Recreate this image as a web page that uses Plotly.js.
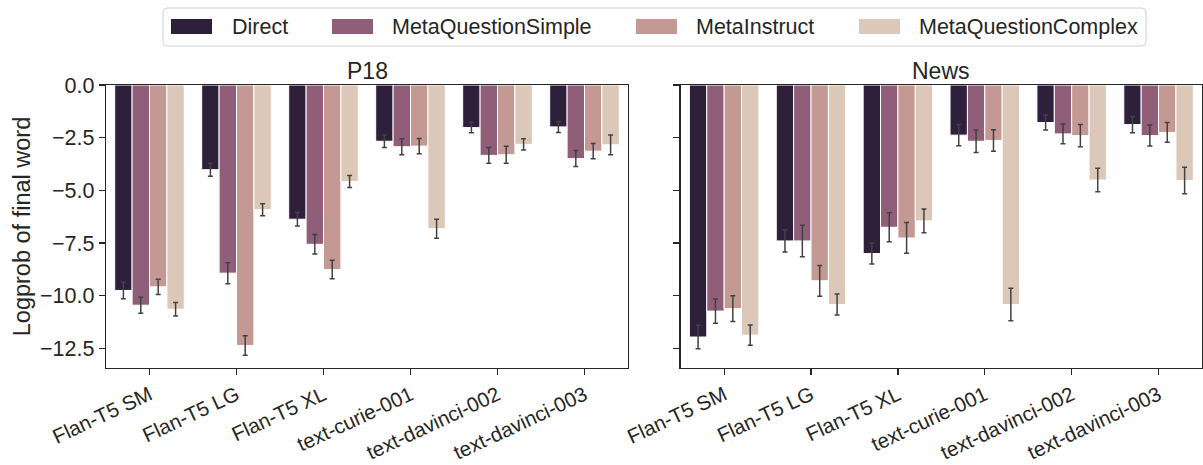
<!DOCTYPE html>
<html>
<head>
<meta charset="utf-8">
<script src="https://cdn.plot.ly/plotly-3.0.1.min.js"></script>
<style>html,body{margin:0;padding:0;background:#fff;}#chart{width:1203px;height:465px;}</style>
</head>
<body>
<div id="chart"></div>
<script>
var categories = ['Flan-T5 SM','Flan-T5 LG','Flan-T5 XL','text-curie-001','text-davinci-002','text-davinci-003'];
var seriesNames = ['Direct','MetaQuestionSimple','MetaInstruct','MetaQuestionComplex'];
var seriesColors = ['#2e1f3b','#905e78','#c49893','#dcc8b8'];

var p18_direct = [-9.75,-4.02,-6.37,-2.67,-2.02,-1.99];
var p18_mqs    = [-10.45,-8.93,-7.56,-2.93,-3.34,-3.49];
var p18_mi     = [-9.58,-12.36,-8.76,-2.90,-3.31,-3.14];
var p18_mqc    = [-10.64,-5.92,-4.58,-6.82,-2.82,-2.84];
var p18_direct_err = [0.39,0.31,0.32,0.30,0.25,0.26];
var p18_mqs_err    = [0.38,0.50,0.46,0.38,0.37,0.38];
var p18_mi_err     = [0.36,0.46,0.44,0.36,0.40,0.36];
var p18_mqc_err    = [0.32,0.28,0.29,0.45,0.27,0.47];

var news_direct = [-11.96,-7.40,-8.00,-2.38,-1.78,-1.88];
var news_mqs    = [-10.73,-7.40,-6.75,-2.67,-2.32,-2.40];
var news_mi     = [-10.61,-9.29,-7.26,-2.63,-2.40,-2.25];
var news_mqc    = [-11.87,-10.42,-6.45,-10.42,-4.51,-4.53];
var news_direct_err = [0.56,0.53,0.50,0.50,0.36,0.39];
var news_mqs_err    = [0.58,0.75,0.69,0.53,0.47,0.50];
var news_mi_err     = [0.61,0.73,0.73,0.51,0.53,0.47];
var news_mqc_err    = [0.48,0.50,0.56,0.77,0.56,0.63];

var yTickVals = [0,-2.5,-5,-7.5,-10,-12.5];
var yTickText = ['0.0','\u22122.5','\u22125.0','\u22127.5','\u221210.0','\u221212.5'];

var panels = [
  {xa:'x', ya:'y', vals:[p18_direct,p18_mqs,p18_mi,p18_mqc], errs:[p18_direct_err,p18_mqs_err,p18_mi_err,p18_mqc_err]},
  {xa:'x2', ya:'y2', vals:[news_direct,news_mqs,news_mi,news_mqc], errs:[news_direct_err,news_mqs_err,news_mi_err,news_mqc_err]}
];

var traces = [];
panels.forEach(function(p){
  for (var i=0;i<4;i++){
    traces.push({
      type:'bar', x:categories, y:p.vals[i], name:seriesNames[i],
      xaxis:p.xa, yaxis:p.ya, showlegend:false,
      marker:{color:seriesColors[i], line:{color:'#ffffff', width:1}},
      error_y:{type:'data', array:p.errs[i], visible:true, color:'#424242', thickness:1.5, width:2.5}
    });
  }
});

var FONT = 'Liberation Sans, Arial, sans-serif';
var TXT = '#262626';
var L=106, R=1202, T=85, B=368;
function px(x){return (x-L)/(R-L);}
function py(y){return (B-y)/(B-T);}

var shapes = [];
var annotations = [];
var bx0=163, bx1=1146, by0=8, by1=46, r=4;
shapes.push({type:'path', xref:'paper', yref:'paper',
  path:'M '+px(bx0+r)+' '+py(by0)+' L '+px(bx1-r)+' '+py(by0)+' Q '+px(bx1)+' '+py(by0)+' '+px(bx1)+' '+py(by0+r)+
       ' L '+px(bx1)+' '+py(by1-r)+' Q '+px(bx1)+' '+py(by1)+' '+px(bx1-r)+' '+py(by1)+
       ' L '+px(bx0+r)+' '+py(by1)+' Q '+px(bx0)+' '+py(by1)+' '+px(bx0)+' '+py(by1-r)+
       ' L '+px(bx0)+' '+py(by0+r)+' Q '+px(bx0)+' '+py(by0)+' '+px(bx0+r)+' '+py(by0)+' Z',
  line:{color:'#d0d0d0', width:1}, fillcolor:'rgba(255,255,255,0.8)'});
var swX = [171, 332, 636, 859];
var txX = [230, 390, 694, 917];
for (var i=0;i<4;i++){
  shapes.push({type:'rect', xref:'paper', yref:'paper', x0:px(swX[i]), x1:px(swX[i]+41), y0:py(34), y1:py(19),
    fillcolor:seriesColors[i], line:{width:0}});
  annotations.push({xref:'paper', yref:'paper', x:px(txX[i]), y:py(27), xanchor:'left', yanchor:'middle',
    text:seriesNames[i], showarrow:false, font:{family:FONT, size:21.5, color:TXT}});
}
annotations.push({xref:'paper', yref:'paper', x:px(367), y:py(71), xanchor:'center', yanchor:'middle',
  text:'P18', showarrow:false, font:{family:FONT, size:23, color:TXT}});
annotations.push({xref:'paper', yref:'paper', x:px(941), y:py(71), xanchor:'center', yanchor:'middle',
  text:'News', showarrow:false, font:{family:FONT, size:23, color:TXT}});

var axisCommon = {showline:true, linecolor:'#262626', linewidth:1.25, mirror:true, ticks:'outside', ticklen:6,
  tickwidth:1.25, tickcolor:'#262626', showgrid:false, zeroline:false, automargin:false,
  tickfont:{family:FONT, size:21.5, color:TXT}};
var xTickFont = {family:FONT, size:20.5, color:TXT};

var layout = {
  width:1203, height:465,
  margin:{l:L, r:1203-R, t:T, b:465-B},
  paper_bgcolor:'#ffffff', plot_bgcolor:'#ffffff',
  barmode:'group', bargap:0.2, bargroupgap:0,
  showlegend:false,
  font:{family:FONT, color:TXT},
  xaxis:Object.assign({}, axisCommon, {domain:[0, px(628)], range:[-0.5,5.5], tickangle:-25, anchor:'y', tickfont:xTickFont}),
  xaxis2:Object.assign({}, axisCommon, {domain:[px(680.7), 1], range:[-0.5,5.5], tickangle:-25, anchor:'y2', tickfont:xTickFont}),
  yaxis:Object.assign({}, axisCommon, {range:[-13.43,0], tickvals:yTickVals, ticktext:yTickText, anchor:'x',
    title:{text:'Logprob of final word', font:{family:FONT, size:23.5, color:TXT}, standoff:2}}),
  yaxis2:Object.assign({}, axisCommon, {range:[-13.43,0], tickvals:yTickVals, showticklabels:false, anchor:'x2', matches:'y'}),
  shapes:shapes, annotations:annotations
};

Plotly.newPlot('chart', traces, layout, {displayModeBar:false, staticPlot:true});
</script>
</body>
</html>
